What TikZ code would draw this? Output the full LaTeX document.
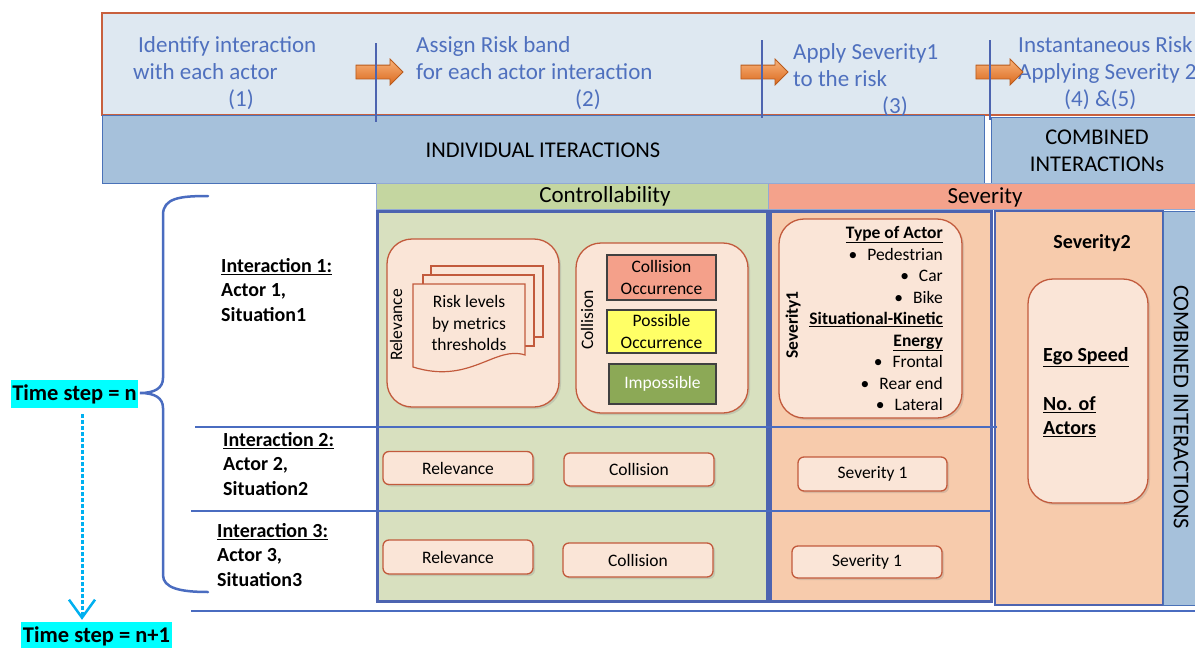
\documentclass[tikz,border=0pt]{standalone}
\usepackage{fontspec}
\setmainfont{Carlito}
\usetikzlibrary{shapes.arrows,shadows,arrows.meta,calc}

\definecolor{stepfill}{HTML}{DEE8F1}
\definecolor{stepedge}{HTML}{C8603E}
\definecolor{steptext}{HTML}{4F70BE}
\definecolor{bandfill}{HTML}{A6C1DB}
\definecolor{bandedge}{HTML}{4A72B8}
\definecolor{ctrlhead}{HTML}{C4D6A0}
\definecolor{ctrlfill}{HTML}{D8E0BF}
\definecolor{sevhead}{HTML}{F4A28B}
\definecolor{sevfill}{HTML}{F7CBAC}
\definecolor{cardfill}{HTML}{FAE5D7}
\definecolor{cardedge}{HTML}{C25A3C}
\definecolor{rulecol}{HTML}{4A6CC0}
\definecolor{paneledge}{HTML}{4D64B0}
\definecolor{arrowlight}{HTML}{F7B27A}
\definecolor{arrowdark}{HTML}{DC6A1E}
\definecolor{arrowedge}{HTML}{B85A1C}
\definecolor{timecyan}{HTML}{00FFFF}
\definecolor{timeline}{HTML}{00B0F0}
\definecolor{collred}{HTML}{F4A08A}
\definecolor{collyellow}{HTML}{FFFF66}
\definecolor{collgreen}{HTML}{8CA956}

\newcommand\fsBig{\fontsize{22.5}{27}\selectfont}
\newcommand\fsStep{\fontsize{23}{27}\selectfont}
\newcommand\fsHead{\fontsize{23}{27}\selectfont}
\newcommand\fsMid{\fontsize{20}{24.5}\selectfont}
\newcommand\fsSmall{\fontsize{17.5}{21.5}\selectfont}

\begin{document}
\begin{tikzpicture}[x=1pt,y=-1pt,
  steplabel/.style={text=steptext, font=\fsStep, align=left, anchor=north west, inner sep=0},
  steparrow/.style={single arrow, minimum height=47pt, single arrow head extend=6pt,
    inner xsep=0pt, inner ysep=6.5pt, draw=arrowedge, line width=0.8pt,
    top color=arrowlight, bottom color=arrowdark},
  divider/.style={draw=paneledge, line width=2.5pt},
  panel/.style={draw=paneledge, line width=3pt},
  rule/.style={draw=rulecol, line width=2pt},
  card/.style={draw=cardedge, fill=cardfill, line width=1.3pt, rounded corners=25pt,
    drop shadow={opacity=0.25, shadow xshift=2pt, shadow yshift=-2pt}},
  chip/.style={card, rounded corners=6pt, minimum width=150pt, minimum height=33pt,
    font=\fsSmall, inner sep=0},
  page/.style={draw=cardedge, fill=cardfill, line width=1.2pt},
  outcome/.style={draw=black!75, line width=1.2pt, font=\fsSmall, align=center,
    inner sep=0, minimum width=109pt},
  ilabel/.style={font=\fsMid\bfseries, align=left, anchor=west, inner sep=0},
  timebox/.style={fill=timecyan, font=\fsBig\bfseries, inner sep=0, minimum height=28pt},
  bracecol/.style={draw=rulecol, line width=2.5pt, line cap=round}
]
\useasboundingbox (0,0) rectangle (1195,648);
\clip (0,0) rectangle (1195,648);

% process steps along the top
\path[draw=stepedge, fill=stepfill, line width=1.2pt] (102,13) rectangle (1200,115);
\path[draw=bandedge, fill=bandfill, line width=1pt] (102,115) rectangle (984,183);
\path[draw=bandedge, fill=bandfill, line width=1pt] (991,117) rectangle (1200,183);

\node[steplabel] (s1) at (133,36) {\hspace{5pt}Identify interaction\\with each actor\\\hspace{95pt}(1)};
\node[steplabel] (s2) at (416,36) {Assign Risk band\\for each actor interaction\\\hspace{159pt}(2)};
\node[steplabel] (s3) at (793,43) {Apply Severity1\\to the risk\\\hspace{89pt}(3)};
\node[steplabel] (s4) at (1018,36) {Instantaneous Risk\\Applying Severity 2\\\hspace{46pt}(4) \&(5)};

\node[steparrow] (a1) at (376,72) {};
\node[steparrow] (a2) at (761,72) {};
\node[steparrow] (a3) at (996,72) {};
\draw[divider] (376,43) -- (376,122);
\draw[divider] (762,40) -- (762,118);
\draw[divider] (990,40) -- (990,120);

\node[font=\fsBig] (indiv) at (543,150) {INDIVIDUAL ITERACTIONS};
\node[font=\fsBig, align=center] (comb) at (1097,151) {COMBINED\\INTERACTIONs};

% column headers
\path[fill=ctrlhead, draw=bandedge!60, line width=0.6pt] (376,183) rectangle (768,209);
\path[fill=sevhead, draw=bandedge!60, line width=0.6pt] (768,183) rectangle (1200,209);
\node[font=\fsHead] (ctrltitle) at (605,196) {Controllability};
\node[font=\fsHead] (sevtitle) at (985,197) {Severity};

% panels
\path[panel, fill=ctrlfill] (377,211) rectangle (767,601);
\path[panel, fill=sevfill] (770,211) rectangle (991,601);
\path[panel, fill=sevfill, line width=2pt] (995,211) rectangle (1163,605);
\path[fill=bandfill, draw=bandedge, line width=1pt] (1163,211) rectangle (1200,605);
\node[font=\fsBig, rotate=-90] (combv) at (1181,407) {COMBINED INTERACTIONS};

% row separators
\draw[rule] (195,427) -- (997,427);
\draw[rule] (191,511) -- (991,511);
\draw[rule] (191,611) -- (1200,611);

% brace grouping the interactions of one time step
\draw[bracecol] (208,196) .. controls (180,196) and (163,198) .. (163,215) -- (163,378)
  .. controls (163,388) and (155,393) .. (140,393)
  .. controls (155,393) and (163,398) .. (163,408) -- (163,575)
  .. controls (163,588) and (180,592) .. (208,592);

\node[timebox, minimum width=127pt] (tsn) at (74.5,394) {Time step = n};
\node[timebox, minimum width=151pt] (tsn1) at (96.5,636) {Time step = n+1};
\draw[timeline, line width=3pt, dash pattern=on 3.5pt off 2.5pt,
  -{Straight Barb[length=18pt, width=26pt, line width=2.5pt]}, shorten >=2pt]
  ([xshift=7.5pt, yshift=-6pt]tsn.south) -- ([xshift=7.5pt]tsn.south |- tsn1.north);

% interaction labels
\node[ilabel] (int1) at (221,290) {\underline{Interaction 1:}\\Actor 1,\\Situation1};
\node[ilabel] (int2) at (223,464) {\underline{Interaction 2:}\\Actor 2,\\Situation2};
\node[ilabel] (int3) at (217,555) {\underline{Interaction 3:}\\Actor 3,\\Situation3};

% relevance card with stacked documents
\node[card, minimum width=172pt, minimum height=168pt] (relcard) at (473,323) {};
\node[font=\fsSmall, rotate=90] (rellabel) at (396,325) {Relevance};
\path[page] (431,266) rectangle (543,337);
\path[page] (423,275) rectangle (534,346);
\path[page] (413,284) -- (525,284) -- (525,355) .. controls (495,345) and (470,385) .. (413,367) -- cycle;
\node[font=\fsSmall, align=center] (risktext) at (469,323) {Risk levels\\by metrics\\thresholds};

% collision card
\node[card, minimum width=172pt, minimum height=170pt] (colcard) at (662,328) {};
\node[font=\fsSmall, rotate=90] (collabel) at (587,320) {Collision};
\node[outcome, fill=collred, minimum height=45pt] (occ) at (661.5,277.5) {Collision\\Occurrence};
\node[outcome, fill=collyellow, minimum height=43pt] (poss) at (661.5,331.5) {Possible\\Occurrence};
\node[outcome, fill=collgreen, minimum width=107pt, minimum height=40pt, text=white] (imp) at (662.5,384) {Impossible};

% severity 1 card
\node[card, minimum width=183pt, minimum height=199pt] (sevcard) at (870.5,318.5) {};
\node[font=\fsSmall\bfseries, rotate=90] (sevlabel) at (793,325) {Severity1};
\node[font=\fsSmall, align=right, anchor=east, inner sep=0] (sevlist) at (943,318.5)
  {\underline{\textbf{Type of Actor}}\\
   \textbullet\hspace{10pt}Pedestrian\\
   \textbullet\hspace{10pt}Car\\
   \textbullet\hspace{10pt}Bike\\
   \underline{\textbf{Situational-Kinetic}}\\
   \underline{\textbf{Energy}}\\
   \textbullet\hspace{10pt}Frontal\\
   \textbullet\hspace{10pt}Rear end\\
   \textbullet\hspace{10pt}Lateral};

% severity 2
\node[font=\fsMid\bfseries] (sev2title) at (1092,243) {Severity2};
\node[card, minimum width=120pt, minimum height=224pt] (sev2card) at (1088,391) {};
\node[font=\fsMid\bfseries, align=left, anchor=west, inner sep=0] (sev2text) at (1043,392)
  {\underline{Ego Speed}\\\mbox{}\\\underline{No. of}\\\underline{Actors}};

% per-interaction chips
\node[chip] (rel2) at (458,468) {Relevance};
\node[chip] (col2) at (639,469.5) {Collision};
\node[chip, minimum width=149pt, minimum height=34pt] (sv2) at (872.5,474) {Severity 1};
\node[chip, minimum height=34pt] (rel3) at (458,557) {Relevance};
\node[chip, minimum height=34pt] (col3) at (638,560) {Collision};
\node[chip, minimum height=32pt] (sv3) at (867,562) {Severity 1};
\end{tikzpicture}
\end{document}
